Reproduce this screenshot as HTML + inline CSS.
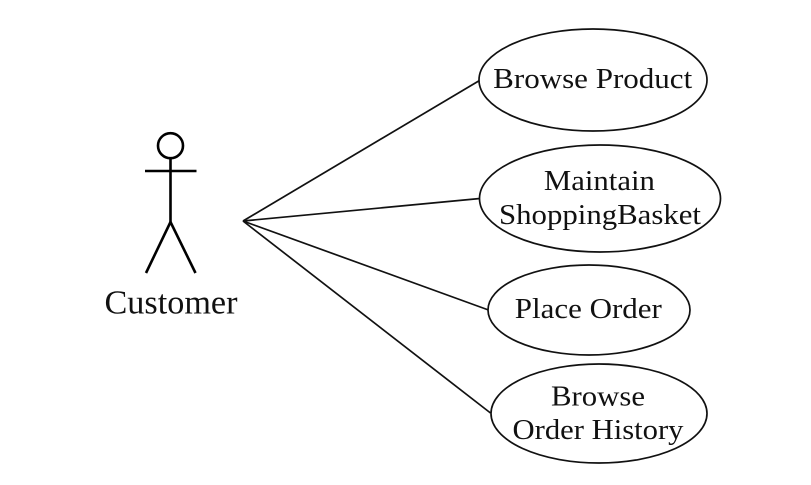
<!DOCTYPE html>
<html>
<head>
<meta charset="utf-8">
<style>
html,body{margin:0;padding:0;background:#fff;}
svg{display:block;}
text{font-family:"Liberation Serif",serif;fill:#111;text-anchor:middle;}
</style>
</head>
<body>
<svg width="811" height="485" viewBox="0 0 811 485" xmlns="http://www.w3.org/2000/svg">
<rect width="811" height="485" fill="#fff"/>
<g fill="none" stroke="#000" stroke-width="2.6">
<circle cx="170.5" cy="145.7" r="12.5"/>
<line x1="170.5" y1="158" x2="170.5" y2="222"/>
<line x1="145" y1="171" x2="196.5" y2="171"/>
<line x1="170.5" y1="222" x2="146" y2="273"/>
<line x1="170.5" y1="222" x2="195.5" y2="273"/>
</g>
<text x="171" y="313.5" font-size="34" fill="#000" textLength="133" lengthAdjust="spacingAndGlyphs">Customer</text>
<g fill="none" stroke="#111" stroke-width="1.7">
<line x1="243" y1="221" x2="479.5" y2="80.5"/>
<line x1="243" y1="221" x2="480" y2="198.5"/>
<line x1="243" y1="221" x2="488.5" y2="310"/>
<line x1="243" y1="221" x2="490.5" y2="413"/>
<ellipse cx="593" cy="80" rx="114" ry="51"/>
<ellipse cx="600" cy="198.5" rx="120.5" ry="53.5"/>
<ellipse cx="589" cy="310" rx="101" ry="45"/>
<ellipse cx="599" cy="413.5" rx="108" ry="49.5"/>
</g>
<text x="592.7" y="88" font-size="28.5" textLength="199" lengthAdjust="spacingAndGlyphs">Browse Product</text>
<text x="599.4" y="190" font-size="28.5" textLength="111" lengthAdjust="spacingAndGlyphs">Maintain</text>
<text x="600" y="224" font-size="28.5" textLength="202" lengthAdjust="spacingAndGlyphs">ShoppingBasket</text>
<text x="588.3" y="318" font-size="28.5" textLength="147" lengthAdjust="spacingAndGlyphs">Place Order</text>
<text x="598" y="405.5" font-size="28.5" textLength="94" lengthAdjust="spacingAndGlyphs">Browse</text>
<text x="598" y="439" font-size="28.5" textLength="171" lengthAdjust="spacingAndGlyphs">Order History</text>
</svg>
</body>
</html>
